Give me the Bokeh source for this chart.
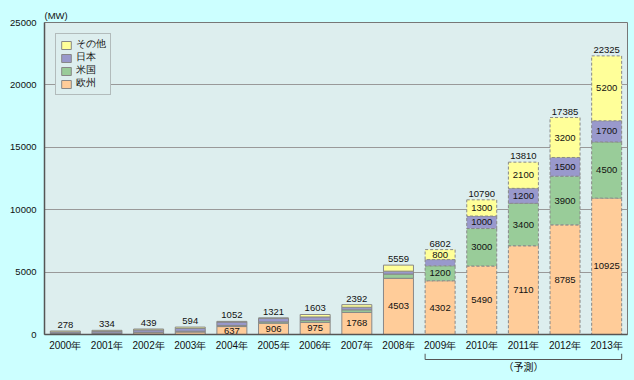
from bokeh.plotting import figure
from bokeh.models import (FactorRange, Range1d, FixedTicker, Legend, LegendItem,
                          ColumnDataSource)
from bokeh.layouts import column
from bokeh.core.properties import value
from bokeh.embed import file_html
from bokeh.resources import INLINE

# ---------------- data ----------------
years = ["2000年", "2001年", "2002年", "2003年", "2004年", "2005年", "2006年",
         "2007年", "2008年", "2009年", "2010年", "2011年", "2012年", "2013年"]
europe = [58, 90, 135, 200, 637, 906, 975, 1768, 4503, 4302, 5490, 7110, 8785, 10925]
usa    = [22, 29, 44, 63, 90, 105, 145, 207, 342, 1200, 3000, 3400, 3900, 4500]
japan  = [122, 123, 185, 223, 272, 290, 287, 210, 230, 500, 1000, 1200, 1500, 1700]
other  = [76, 92, 75, 108, 53, 20, 196, 207, 484, 800, 1300, 2100, 3200, 5200]
forecast = [False] * 9 + [True] * 5
series_keys = ["europe", "usa", "japan", "other"]
series_names = ["欧州", "米国", "日本", "その他"]
yticks = [0, 5000, 10000, 15000, 20000, 25000]
forecast_label = "（予測）"
unit_label = "(MW)"

colors = ["#ffcc99", "#99cc99", "#9999cc", "#ffff99"]
PAGE_BG = "#ccffff"
PLOT_BG = "#ddeeee"
FONT_S = "Liberation Sans"
FONT = value("Liberation Sans, Noto Sans CJK JP")

# ---------------- sources ----------------
def make_src(mask):
    d = {"years": [], "europe": [], "usa": [], "japan": [], "other": []}
    for i, y in enumerate(years):
        if mask[i]:
            d["years"].append(y)
            d["europe"].append(europe[i])
            d["usa"].append(usa[i])
            d["japan"].append(japan[i])
            d["other"].append(other[i])
    return ColumnDataSource(d)

src_actual = make_src([not f for f in forecast])
src_fc = make_src(forecast)

p = figure(x_range=FactorRange(*years), y_range=Range1d(0, 25000),
           width=634, height=353, output_backend="svg", toolbar_location=None,
           min_border_left=44, min_border_right=7, min_border_top=22,
           min_border_bottom=18)
p.background_fill_color = PLOT_BG
p.border_fill_color = PAGE_BG
p.outline_line_color = "#777777"

p.title.text = unit_label
p.title.align = "left"
p.title.text_font_size = "9.5px"
p.title.text_font_style = "normal"
p.title.text_font = FONT_S
p.title.text_color = "#111111"
p.title.standoff = 3
p.title.offset = 0

r_act = p.vbar_stack(series_keys, x="years", width=0.72, source=src_actual,
                     fill_color=colors, line_color="#888888", line_width=1)
r_fc = p.vbar_stack(series_keys, x="years", width=0.72, source=src_fc,
                    fill_color=colors, line_color="#888888", line_width=1,
                    line_dash="3 2")

# totals
totals = [europe[i] + usa[i] + japan[i] + other[i] for i in range(len(years))]
p.text(x=years, y=totals, text=[str(t) for t in totals], y_offset=-3,
       text_align="center", text_baseline="bottom", text_font_size="9.5px",
       text_font=FONT, text_color="#111111")

# segment labels
lx, ly, lt = [], [], []
for i, yr in enumerate(years):
    base = 0
    for vals in (europe, usa, japan, other):
        v = vals[i]
        if v >= 600:
            lx.append(yr)
            ly.append(base + v / 2)
            lt.append(str(v))
        base += v
p.text(x=lx, y=ly, text=lt, text_align="center", text_baseline="middle",
       text_font_size="9.5px", text_font=FONT, text_color="#111111")

# axes / grid
p.yaxis.ticker = FixedTicker(ticks=yticks)
p.yaxis.major_tick_line_color = None
p.yaxis.minor_tick_line_color = None
p.yaxis.major_tick_out = 0
p.yaxis.minor_tick_out = 0
p.yaxis.axis_line_color = "#555555"
p.yaxis.axis_line_width = 1.5
p.yaxis.major_label_text_font_size = "9.5px"
p.yaxis.major_label_text_font = FONT_S
p.yaxis.major_label_standoff = 8
p.yaxis.major_label_text_color = "#111111"

p.xaxis.major_tick_line_color = None
p.xaxis.minor_tick_line_color = None
p.xaxis.major_tick_out = 0
p.xaxis.minor_tick_out = 0
p.xaxis.axis_line_color = "#555555"
p.xaxis.axis_line_width = 1.5
p.xaxis.major_label_text_font_size = "10px"
p.xaxis.major_label_text_font = FONT_S
p.xaxis.major_label_standoff = 5
p.xaxis.major_label_text_color = "#111111"

p.xgrid.grid_line_color = None
p.ygrid.grid_line_color = "#999999"

# legend (reverse order, その他 on top)
items = [LegendItem(label=series_names[k], renderers=[r_act[k]]) for k in (3, 2, 1, 0)]
legend = Legend(items=items, location="top_left", margin=11)
legend.border_line_color = "#888888"
legend.background_fill_color = PLOT_BG
legend.background_fill_alpha = 1
legend.label_text_font_size = "9.5px"
legend.label_text_font = FONT_S
legend.label_text_color = "#111111"
legend.label_text_line_height = 1.0
legend.glyph_height = 10
legend.glyph_width = 12
legend.label_height = 10
legend.label_standoff = 4
legend.spacing = -2
legend.padding = 4
p.add_layout(legend)

# ---------------- bracket strip below ----------------
p2 = figure(x_range=p.x_range, y_range=Range1d(27, 0), width=634, height=27,
            output_backend="svg", toolbar_location=None,
            x_axis_location=None, y_axis_location=None,
            min_border_left=44, min_border_right=7, min_border_top=0,
            min_border_bottom=0)
p2.background_fill_color = PAGE_BG
p2.border_fill_color = PAGE_BG
p2.outline_line_color = None
p2.xgrid.grid_line_color = None
p2.ygrid.grid_line_color = None

fc_years = [y for y, f in zip(years, forecast) if f]
first, last = fc_years[0], fc_years[-1]
p2.line(x=[(first, -0.36), (first, -0.36), (last, 0.36), (last, 0.36)],
        y=[0, 6, 6, 0], line_color="#555555", line_width=1)
mid = fc_years[len(fc_years) // 2]
p2.text(x=[mid], y=[14], text=[forecast_label], text_align="center",
        text_baseline="middle", text_font_size="10px", text_font=FONT,
        text_color="#111111")

layout = column(p, p2, spacing=0)
html = file_html(layout, INLINE)
html = html.replace("</head>", "<style>html,body{background:%s;margin:0;}</style></head>" % PAGE_BG)
open("out.html", "w").write(html)
